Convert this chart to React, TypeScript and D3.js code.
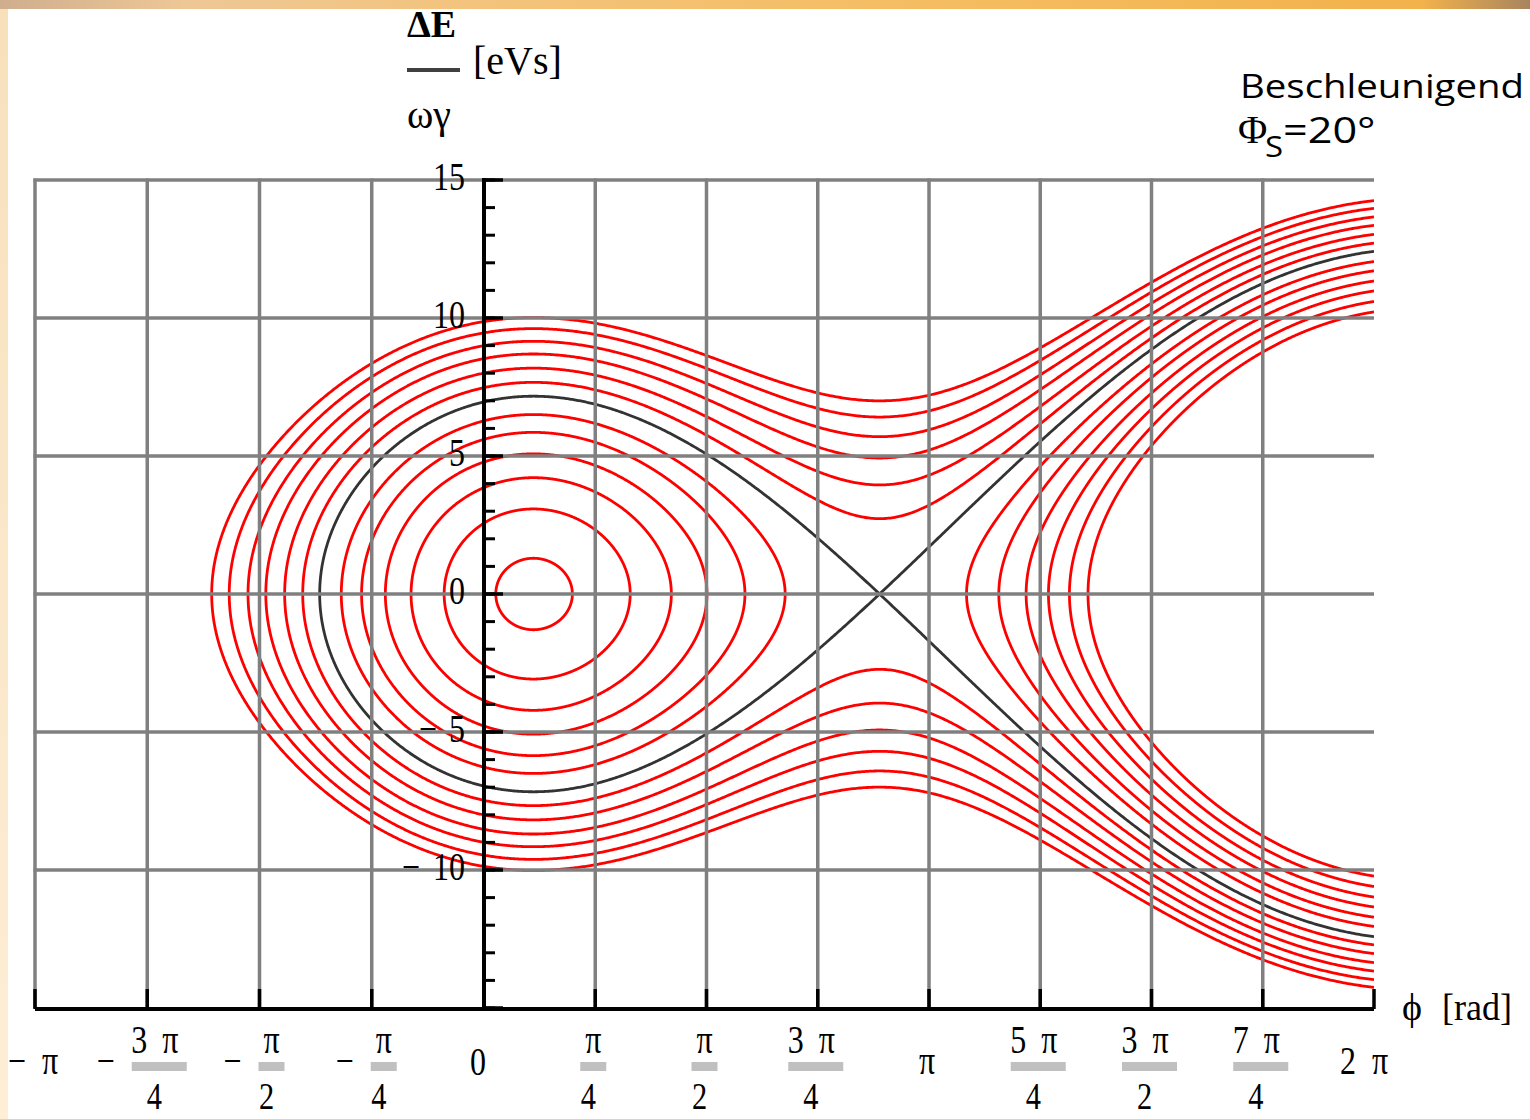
import React from "react";
import * as d3 from "d3";

const WIDTH = 1530;
const HEIGHT = 1119;

// synchronous phase (deg) and bucket scale 2K [(eVs)^2 per potential unit]
const phiSDeg = 20;
const bucketScale = 49.2;
// potential levels (cos φ + φ·sin φs) of the drawn trajectories, read at their ΔE = 0 crossings
const outsideLevels = [-0.98, -0.82, -0.645, -0.478, -0.302, -0.136];
const insideLevels = [0.2, 0.362, 0.535, 0.698, 0.866, 1.025];

const xTickQuarters = [-4, -3, -2, -1, 0, 1, 2, 3, 4, 5, 6, 7, 8];
const xTickLabels = ["-π", "-3π/4", "-π/2", "-π/4", "0", "π/4", "π/2", "3π/4", "π", "5π/4", "3π/2", "7π/4", "2π"];
const yGridValues = [-10, -5, 0, 5, 10, 15];
const yLabelValues = [-10, -5, 0, 5, 10, 15];
const yLabelTexts = ["-10", "-5", "0", "5", "10", "15"];

const xScale = d3.scaleLinear().domain([-Math.PI, 0, 2 * Math.PI]).range([35, 484, 1374]);
const yScale = d3.scaleLinear().domain([-15, 15]).range([1008, 180]);

const phiS = (phiSDeg * Math.PI) / 180;
const potential = (p: number) => Math.cos(p) + p * Math.sin(phiS);
const phiX = Math.PI - phiS;
const separatrixLevel = potential(phiX) - 1e-9;

const line = d3
  .line<[number, number]>()
  .x((d) => xScale(d[0]))
  .y((d) => yScale(d[1]));

function trajectoryPaths(level: number, extra: number[] = []): string[] {
  const lo = -Math.PI;
  const hi = 2 * Math.PI;
  const g = (p: number) => potential(p) - level;
  const N = 4000;
  const roots: number[] = [];
  let prev = g(lo);
  for (let i = 1; i <= N; i++) {
    const p = lo + ((hi - lo) * i) / N;
    const v = g(p);
    if (prev < 0 !== v < 0) {
      let a = lo + ((hi - lo) * (i - 1)) / N;
      let b = p;
      for (let j = 0; j < 60; j++) {
        const m = (a + b) / 2;
        if (g(a) < 0 === g(m) < 0) a = m;
        else b = m;
      }
      roots.push((a + b) / 2);
    }
    prev = v;
  }
  const bounds = [lo, ...roots, hi];
  const de = (p: number) => Math.sqrt(Math.max(0, bucketScale * g(p)));
  const out: string[] = [];
  for (let i = 0; i < bounds.length - 1; i++) {
    const a = bounds[i];
    const b = bounds[i + 1];
    if (g((a + b) / 2) <= 0) continue;
    const aRoot = i > 0;
    const bRoot = i < bounds.length - 2;
    const n = 900;
    let phis: number[] = [];
    for (let k = 0; k <= n; k++) {
      const u = k / n;
      let p: number;
      if (aRoot && bRoot) p = a + ((b - a) * (1 - Math.cos(Math.PI * u))) / 2;
      else if (aRoot) p = a + (b - a) * (1 - Math.cos((Math.PI * u) / 2));
      else if (bRoot) p = b - (b - a) * (1 - Math.cos((Math.PI * u) / 2));
      else p = a + (b - a) * u;
      phis.push(p);
    }
    extra.forEach((e) => {
      if (e > a && e < b) phis.push(e);
    });
    phis = phis.sort((x, y) => x - y);
    const upper: [number, number][] = phis.map((p) => [p, de(p)]);
    const lower: [number, number][] = phis.map((p) => [p, -de(p)]);
    if (aRoot && bRoot) {
      out.push((line([...upper, ...lower.slice().reverse()]) as string) + "Z");
    } else if (aRoot) {
      out.push(line([...upper.slice().reverse(), ...lower]) as string);
    } else if (bRoot) {
      out.push(line([...upper, ...lower.slice().reverse()]) as string);
    } else {
      out.push(line(upper) as string);
      out.push(line(lower) as string);
    }
  }
  return out;
}

const serif = "'Liberation Serif', 'Times New Roman', serif";
const comic = "'Comic Sans MS', 'Open Sans', 'DejaVu Sans', sans-serif";

function ST(props: {
  x: number;
  y: number;
  anchor?: string;
  size?: number;
  sx?: number;
  weight?: string;
  family?: string;
  children: React.ReactNode;
}) {
  const { x, y, anchor = "start", size = 40, sx = 0.8, weight = "normal", family = serif, children } = props;
  return (
    <text
      transform={`translate(${x},${y}) scale(${sx},1)`}
      textAnchor={anchor}
      fontFamily={family}
      fontSize={size}
      fontWeight={weight}
      fill="#000"
    >
      {children}
    </text>
  );
}

function XTickLabel({ q, label }: { q: number; label: string }) {
  const tx = xScale((q * Math.PI) / 4);
  const neg = label.startsWith("-");
  const body = neg ? label.slice(1) : label;
  if (!body.includes("/")) {
    if (body === "0") return <ST x={tx - 6} y={1075} anchor="middle">0</ST>;
    const hasDigit = body.length > 1;
    return (
      <g>
        {neg && <ST x={tx - 18} y={1074} anchor="middle">−</ST>}
        {hasDigit && <ST x={tx - 26} y={1074} anchor="middle">{body[0]}</ST>}
        <ST x={neg ? tx + 15 : hasDigit ? tx + 6 : tx - 2} y={1074} anchor="middle">π</ST>
      </g>
    );
  }
  const [num, den] = body.split("/");
  const barW = num.length > 1 ? 55 : 26;
  const cx = neg ? tx + 12 : tx - 2;
  return (
    <g>
      {neg && <ST x={cx - barW / 2 - 26} y={1074} anchor="middle">−</ST>}
      {num.length > 1 ? (
        <g>
          <ST x={cx - 20} y={1053} anchor="middle">{num[0]}</ST>
          <ST x={cx + 11} y={1053} anchor="middle">π</ST>
        </g>
      ) : (
        <ST x={cx} y={1053} anchor="middle">π</ST>
      )}
      <rect x={cx - barW / 2} y={1062} width={barW} height={9} fill="#c0c0c0" />
      <ST x={cx - 5} y={1109} anchor="middle" size={38}>{den}</ST>
    </g>
  );
}

export default function App() {
  const left = xScale(-Math.PI);
  const right = xScale(2 * Math.PI);
  const top = yScale(15);
  const bottom = yScale(-15);
  const x0 = xScale(0);

  const redPaths = [...outsideLevels, ...insideLevels].flatMap((lv) => trajectoryPaths(lv));
  const sepPaths = trajectoryPaths(separatrixLevel, [phiX]);

  const gridX = xTickQuarters.filter((q) => q < 8).map((q) => xScale((q * Math.PI) / 4));
  const minorY = yScale.ticks(30);
  const majorY = yScale.ticks(6);

  return (
    <svg
      width={WIDTH}
      height={HEIGHT}
      style={{ position: "absolute", left: 0, top: 0, display: "block" }}
    >
      <defs>
        <linearGradient id="topStrip" x1="0" x2="1" y1="0" y2="0">
          <stop offset="0" stopColor="#cfae8e" />
          <stop offset="0.12" stopColor="#eec796" />
          <stop offset="0.3" stopColor="#f3c47e" />
          <stop offset="0.6" stopColor="#f5bd62" />
          <stop offset="0.93" stopColor="#f2b24c" />
          <stop offset="1" stopColor="#a8845e" />
        </linearGradient>
        <linearGradient id="leftStrip" x1="0" x2="0" y1="0" y2="1">
          <stop offset="0" stopColor="#f8e0bc" />
          <stop offset="1" stopColor="#fdeed6" />
        </linearGradient>
        <clipPath id="plotClip">
          <rect x={left} y={top} width={right - left} height={bottom - top} />
        </clipPath>
      </defs>

      <rect x={0} y={0} width={WIDTH} height={HEIGHT} fill="#ffffff" />
      <rect x={0} y={0} width={8} height={HEIGHT} fill="url(#leftStrip)" />
      <rect x={0} y={0} width={WIDTH} height={9} fill="url(#topStrip)" />

      {/* trajectories */}
      <g clipPath="url(#plotClip)" fill="none" strokeLinejoin="round">
        {redPaths.map((d, i) => (
          <path key={`r${i}`} d={d} stroke="#ff0000" strokeWidth={2.8} />
        ))}
        {sepPaths.map((d, i) => (
          <path key={`s${i}`} d={d} stroke="#333333" strokeWidth={2.8} />
        ))}
      </g>

      {/* grid */}
      <g stroke="#808080" strokeWidth={3.5}>
        {gridX.map((x, i) => (
          <line key={`gx${i}`} x1={x} x2={x} y1={top - 1.5} y2={bottom} />
        ))}
        {yGridValues.map((v, i) => (
          <line key={`gy${i}`} x1={left - 1.5} x2={right} y1={yScale(v)} y2={yScale(v)} />
        ))}
      </g>

      {/* axes */}
      <g stroke="#000" fill="none">
        <line x1={left} x2={right} y1={bottom + 1} y2={bottom + 1} strokeWidth={4} />
        {xTickQuarters.map((q) => {
          const x = xScale((q * Math.PI) / 4);
          return <line key={`xt${q}`} x1={x} x2={x} y1={bottom + 1} y2={bottom - 19} strokeWidth={3.5} />;
        })}
        <line x1={x0} x2={x0} y1={top - 2} y2={bottom + 1} strokeWidth={4} />
        {minorY.map((v) => (
          <line key={`ym${v}`} x1={x0} x2={x0 + 11} y1={yScale(v)} y2={yScale(v)} strokeWidth={3} />
        ))}
        {majorY.map((v) => (
          <line key={`yM${v}`} x1={x0} x2={x0 + 19} y1={yScale(v)} y2={yScale(v)} strokeWidth={3.5} />
        ))}
      </g>

      {/* y tick labels */}
      {yLabelValues.map((v, i) => {
        const txt = yLabelTexts[i];
        const neg = txt.startsWith("-");
        const digits = neg ? txt.slice(1) : txt;
        const y = yScale(v) + 10;
        return (
          <g key={`yl${v}`}>
            <ST x={465} y={y} anchor="end">{digits}</ST>
            {neg && (
              <ST x={465 - 17 * digits.length - 20} y={y} anchor="middle">−</ST>
            )}
          </g>
        );
      })}

      {/* x tick labels */}
      {xTickQuarters.map((q, i) => (
        <XTickLabel key={`xl${q}`} q={q} label={xTickLabels[i]} />
      ))}

      {/* axis titles */}
      <ST x={407} y={37} size={38} sx={1} weight="bold">ΔE</ST>
      <rect x={407} y={68} width={53} height={4} fill="#404040" />
      <ST x={473} y={74} size={40} sx={1}>[eVs]</ST>
      <ST x={407} y={128} size={40} sx={1}>ωγ</ST>
      <ST x={1402} y={1020} size={38} sx={1}>ϕ</ST>
      <ST x={1442} y={1020} size={38} sx={0.95}>[rad]</ST>

      {/* annotation */}
      <ST x={1240} y={98} size={32} sx={1.2} family={comic}>Beschleunigend</ST>
      <ST x={1238} y={143} size={40} sx={1}>Φ</ST>
      <ST x={1265} y={157} size={30} sx={1.1} family={comic}>S</ST>
      <ST x={1283} y={143} size={36} sx={1.2} family={comic}>=20°</ST>
    </svg>
  );
}
